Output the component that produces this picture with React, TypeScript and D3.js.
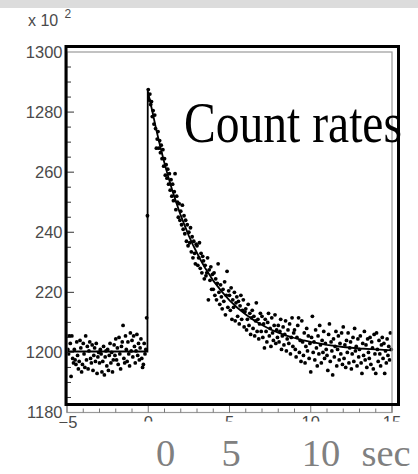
import React from "react";
import * as d3 from "d3";

// ---- data ----
const T_START = -5;
const T_STEP = 0.05;

// measured counts (x100), t = -5.00 ... -0.05
const baselineCounts = [
  1205.5, 1201, 1199.5, 1205.5, 1203, 1192, 1205.5, 1198, 1196.5, 1201, 1197.5, 1196, 1203.5, 1199, 1194.5, 1197, 1204, 1201.5, 1193.5, 1196,
  1203, 1199.5, 1195, 1205.5, 1197.5, 1202, 1194.5, 1200.5, 1203.5, 1198, 1196.5, 1202.5, 1194, 1199, 1201.5, 1197, 1203, 1193, 1198.5, 1200,
  1196.5, 1201, 1199.5, 1193.5, 1197, 1202, 1192.5, 1198.5, 1200.5, 1195.5, 1201, 1194, 1199, 1203, 1196.5, 1200, 1193.5, 1197.5, 1202.5, 1199,
  1204.5, 1197.5, 1201.5, 1196, 1205, 1199.5, 1194.5, 1202, 1203.5, 1209, 1198, 1196.5, 1205.5, 1201, 1197, 1203.5, 1199.5, 1195.5, 1206.5, 1200.5,
  1204, 1198.5, 1205.5, 1202, 1196.5, 1200.5, 1206, 1199, 1203, 1197.5, 1201.5, 1204.5, 1198, 1195, 1196, 1203, 1199.5, 1201, 1211.5, 1245.5,
];

// measured counts (x100), t = 0.00 ... 14.95
const decayCounts = [
  1287.5, 1284, 1286, 1282.5, 1283.5, 1278.5, 1280.5, 1276, 1279, 1274.5, 1268, 1271, 1273.5, 1268, 1270.5, 1266.5, 1269, 1264.5, 1267.5, 1262,
  1264.5, 1259, 1262.5, 1258, 1261, 1256, 1259.5, 1254, 1257.5, 1252, 1256, 1250.5, 1253.5, 1259.5, 1247.5, 1252, 1250, 1245, 1249.5, 1244,
  1247, 1242.5, 1249, 1241, 1245.5, 1239.5, 1244, 1237, 1242.5, 1235.5, 1240, 1236.5, 1241.5, 1233.5, 1238.5, 1231.5, 1237, 1233, 1229.5, 1236,
  1235.5, 1229, 1231.5, 1236.5, 1228, 1233, 1226.5, 1232, 1230.5, 1224.5, 1229, 1225.5, 1226.5, 1231.5, 1217.5, 1227.5, 1224, 1228.5, 1221, 1226,
  1221, 1226.5, 1219, 1224.5, 1217.5, 1223, 1229.5, 1220, 1216, 1222.5, 1218.5, 1214.5, 1221, 1217, 1223.5, 1212.5, 1219, 1227, 1215, 1220.5,
  1219, 1214, 1221.5, 1211, 1217.5, 1215, 1220, 1210.5, 1216.5, 1218.5, 1212, 1217, 1209.5, 1215.5, 1219, 1211, 1214, 1217.5, 1208.5, 1213.5,
  1214.5, 1207.5, 1211, 1216, 1209, 1213, 1206, 1211.5, 1214, 1208, 1212, 1205.5, 1210.5, 1216.5, 1207, 1211, 1204.5, 1209.5, 1213, 1207,
  1212, 1205, 1209.5, 1201.5, 1211, 1207, 1203.5, 1210, 1213, 1205.5, 1208, 1202, 1211.5, 1206.5, 1204, 1209, 1212.5, 1203, 1207.5, 1205,
  1209, 1203.5, 1207, 1211, 1201, 1205.5, 1208.5, 1202.5, 1206, 1210.5, 1200.5, 1204.5, 1207.5, 1203, 1209.5, 1199.5, 1205, 1211.5, 1202, 1206.5,
  1207.5, 1201, 1198.5, 1205, 1209, 1211.5, 1200, 1204, 1197, 1210.5, 1203.5, 1199, 1206.5, 1196.5, 1202, 1208, 1200.5, 1205.5, 1198, 1203,
  1193.5, 1205, 1212, 1200, 1203.5, 1197.5, 1207.5, 1201.5, 1195.5, 1205.5, 1199.5, 1209, 1202.5, 1196.5, 1204, 1200, 1207, 1198, 1203, 1201,
  1199, 1194, 1206, 1209.5, 1197, 1203.5, 1200.5, 1192.5, 1204.5, 1198.5, 1202, 1207, 1195.5, 1201, 1205.5, 1197.5, 1203, 1199.5, 1206.5, 1196,
  1208.5, 1198, 1202.5, 1195, 1204, 1200, 1206.5, 1196.5, 1201.5, 1203.5, 1194.5, 1199.5, 1205, 1197, 1208, 1200.5, 1202, 1195.5, 1204.5, 1198.5,
  1201, 1205.5, 1196.5, 1193, 1203, 1199, 1207, 1197.5, 1202.5, 1195, 1204.5, 1200, 1198, 1205, 1196, 1203.5, 1201.5, 1194.5, 1206, 1199.5,
  1193, 1206.5, 1201, 1197, 1204, 1199.5, 1195.5, 1202.5, 1205, 1198, 1203, 1193, 1200.5, 1196.5, 1204.5, 1199, 1202, 1197.5, 1206.5, 1201,
];

// fitted curve
const fitTimes = [-5, -0.05, -0.03, 0.25, 0.5, 0.75, 1, 1.25, 1.5, 1.75, 2, 2.25, 2.5, 2.75, 3, 3.25, 3.5, 3.75, 4, 4.5, 5, 5.5, 6, 6.5, 7, 7.5, 8, 8.5, 9, 9.5, 10, 11, 12, 13, 14, 15];
const fitCounts = [1200.3, 1200.3, 1287, 1280.3, 1274.0, 1268.3, 1263.0, 1258.1, 1253.6, 1249.5, 1245.6, 1242.1, 1238.8, 1235.8, 1233.1, 1230.5, 1228.1, 1226.0, 1223.9, 1220.4, 1217.3, 1214.8, 1212.6, 1210.7, 1209.1, 1207.7, 1206.6, 1205.6, 1204.8, 1204.1, 1203.5, 1202.5, 1201.8, 1201.3, 1201.0, 1200.7];

const yTickValues = [1300, 1280, 1260, 1240, 1220, 1200, 1180];
const yTickLabels = ["1300", "1280", "260", "240", "220", "1200", "1180"];
const xTickValues = [-5, 0, 5, 10, 15];
const xTickLabels = ["\u22125", "0", "5", "10", "15"];
const bigLabels = ["0", "5", "10", "sec"];
const bigLabelPos = [165.5, 231, 321, 386];
const title = "Count rates";

export default function App() {
  const W = 418, H = 474;
  const x = d3.scaleLinear().domain([-5, 15]).range([67, 392]);
  const y = d3.scaleLinear().domain([1180, 1300]).range([412.5, 52]);

  const points = [...baselineCounts, ...decayCounts].map((v, i) => ({ t: T_START + i * T_STEP, v }));
  const fit = fitTimes.map((t, i) => ({ t, v: fitCounts[i] }));
  const line = d3.line<{ t: number; v: number }>().x((d) => x(d.t)).y((d) => y(d.v));

  const yMinor = d3.range(1185, 1300, 5).filter((v) => v % 20 !== 0);
  const xMinor = d3.range(-4, 15, 1).filter((v) => v % 5 !== 0);

  const sans = "'Liberation Sans', Arial, sans-serif";
  const serif = "'Liberation Serif', 'Times New Roman', serif";
  const tickCol = "#4a4a4a";

  return (
    <svg width={W} height={H} style={{ position: "absolute", left: 0, top: 0, background: "#fff" }}>
      <rect x={0} y={0} width={W} height={H} fill="#fff" />
      <rect x={0} y={0} width={W} height={8} fill="#dcdcdc" />

      {/* exponent */}
      <text x={28} y={26} fontFamily={sans} fontSize={16} fill={tickCol}>x 10</text>
      <text x={64.5} y={18} fontFamily={sans} fontSize={12} fill={tickCol}>2</text>

      {/* data */}
      <path d={line(fit) || ""} fill="none" stroke="#000" strokeWidth={1.8} />
      {points.map((p, i) => (
        <circle key={i} cx={x(p.t)} cy={y(p.v)} r={1.9} fill="#000" />
      ))}

      {/* gray axis frame */}
      <rect x={x(-5)} y={y(1300)} width={x(15) - x(-5)} height={y(1180) - y(1300)} fill="none" stroke="#9a9a9a" strokeWidth={1.2} />

      {/* y ticks */}
      {yTickValues.filter((v) => v > 1180 && v < 1300).map((v) => (
        <line key={"ym" + v} x1={x(-5)} x2={x(-5) + 7} y1={y(v)} y2={y(v)} stroke="#333" strokeWidth={1} />
      ))}
      {yMinor.map((v) => (
        <line key={"yn" + v} x1={x(-5)} x2={x(-5) + 4} y1={y(v)} y2={y(v)} stroke="#333" strokeWidth={1} />
      ))}
      {yTickValues.map((v, i) => (
        <text key={"yl" + v} x={62.5} y={y(v)} dy="0.36em" textAnchor="end" fontFamily={sans} fontSize={16.5} fill={tickCol}>
          {yTickLabels[i]}
        </text>
      ))}

      {/* x ticks */}
      {xTickValues.map((v) => (
        <line key={"xm" + v} x1={x(v)} x2={x(v)} y1={y(1180)} y2={y(1180) - 7} stroke="#777" strokeWidth={1} />
      ))}
      {xMinor.map((v) => (
        <line key={"xn" + v} x1={x(v)} x2={x(v)} y1={y(1180)} y2={y(1180) - 4} stroke="#777" strokeWidth={1} />
      ))}
      {xTickValues.map((v, i) => (
        <text key={"xl" + v} x={x(v) + (i === 0 ? 1 : 0)} y={428} textAnchor="middle" fontFamily={sans} fontSize={16.5} fill={tickCol}>
          {xTickLabels[i]}
        </text>
      ))}

      {/* black outer frame */}
      <rect x={66} y={46.5} width={332.5} height={358} fill="none" stroke="#000" strokeWidth={3} />

      {/* cover and big labels */}
      <rect x={110} y={421.5} width={W - 110} height={H - 421.5} fill="#fff" />
      {bigLabels.map((s, i) => (
        <text key={"bl" + i} x={bigLabelPos[i]} y={465.5} textAnchor="middle" fontFamily={serif} fontSize={38.5} fill="#808080">
          {s}
        </text>
      ))}

      <text x={184} y={142} fontFamily={serif} fontSize={58} fill="#000" textLength={218} lengthAdjust="spacingAndGlyphs">
        {title}
      </text>
    </svg>
  );
}
